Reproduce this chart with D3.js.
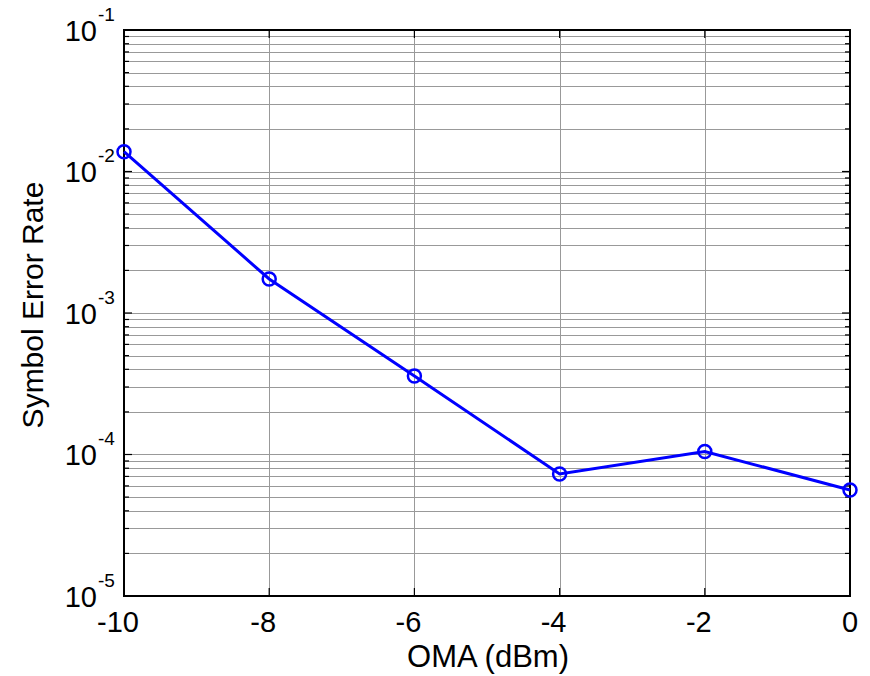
<!DOCTYPE html>
<html><head><meta charset="utf-8">
<script src="https://cdn.jsdelivr.net/npm/d3@7"></script>
<style>body{margin:0;background:#fff}text{font-family:"Liberation Sans",Arial,sans-serif}</style>
</head><body><svg id="c" width="870" height="676"></svg>
<script>
const oma = [-10, -8, -6, -4, -2, 0];
const ser = [1.38e-2, 1.74e-3, 3.59e-4, 7.28e-5, 1.05e-4, 5.61e-5];
const xTicks = [-10, -8, -6, -4, -2, 0];
const yExps = [-5, -4, -3, -2, -1];
const xLabel = "OMA (dBm)";
const yLabel = "Symbol Error Rate";

const svg = d3.select("#c");
const L = 124, R = 850, T = 30, B = 596;
const x = d3.scaleLinear().domain([-10, 0]).range([L, R]);
const y = d3.scaleLog().domain([1e-5, 1e-1]).range([B, T]);

const minor = [];
for (let e = -5; e < -1; e++) for (let m = 2; m <= 9; m++) minor.push(m * Math.pow(10, e));
const major = yExps.map(e => Math.pow(10, e));

const g = svg.append("g");
// grid
g.selectAll(".gy").data(minor.concat(major)).enter().append("line")
  .attr("x1", L).attr("x2", R).attr("y1", d => Math.round(y(d)) + 0.5).attr("y2", d => Math.round(y(d)) + 0.5)
  .attr("stroke", "#999").attr("stroke-width", 1);
g.selectAll(".gx").data(xTicks).enter().append("line")
  .attr("y1", T).attr("y2", B).attr("x1", d => Math.round(x(d)) + 0.5).attr("x2", d => Math.round(x(d)) + 0.5)
  .attr("stroke", "#999").attr("stroke-width", 1);

// ticks (inward, both sides)
const tk = svg.append("g").attr("stroke", "#000").attr("stroke-width", 1.2);
major.forEach(v => {
  tk.append("line").attr("x1", L).attr("x2", L + 8).attr("y1", y(v)).attr("y2", y(v));
  tk.append("line").attr("x1", R).attr("x2", R - 8).attr("y1", y(v)).attr("y2", y(v));
});
minor.forEach(v => {
  tk.append("line").attr("x1", L).attr("x2", L + 5).attr("y1", y(v)).attr("y2", y(v));
  tk.append("line").attr("x1", R).attr("x2", R - 5).attr("y1", y(v)).attr("y2", y(v));
});
xTicks.forEach(v => {
  tk.append("line").attr("x1", x(v)).attr("x2", x(v)).attr("y1", B).attr("y2", B - 8);
  tk.append("line").attr("x1", x(v)).attr("x2", x(v)).attr("y1", T).attr("y2", T + 8);
});

// frame
svg.append("rect").attr("x", L).attr("y", T).attr("width", R - L).attr("height", B - T)
  .attr("fill", "none").attr("stroke", "#000").attr("stroke-width", 2);

// x tick labels
svg.selectAll(".xl").data(xTicks).enter().append("text")
  .attr("x", d => x(d)).attr("dx", d => d < 0 ? -6 : 0).attr("y", 632).attr("text-anchor", "middle")
  .attr("font-size", 29).text(d => d);

// y tick labels
yExps.forEach(e => {
  const yy = y(Math.pow(10, e));
  svg.append("text").attr("x", 97).attr("y", yy + 10.5)
    .attr("text-anchor", "end").attr("font-size", 29).text("10");
  svg.append("text").attr("x", 98).attr("y", yy - 9.5)
    .attr("text-anchor", "start").attr("font-size", 19).text(e);
});

// axis labels
svg.append("text").attr("x", 488).attr("y", 667).attr("text-anchor", "middle")
  .attr("font-size", 31).text(xLabel);
svg.append("text").attr("transform", `translate(43,305) rotate(-90)`)
  .attr("text-anchor", "middle").attr("font-size", 30).text(yLabel);

// series
const line = d3.line().x((d, i) => x(oma[i])).y(d => y(d));
svg.append("path").datum(ser).attr("d", line).attr("fill", "none")
  .attr("stroke", "#0000ff").attr("stroke-width", 3);
svg.selectAll(".pt").data(ser).enter().append("circle")
  .attr("cx", (d, i) => x(oma[i])).attr("cy", d => y(d)).attr("r", 6.5)
  .attr("fill", "none").attr("stroke", "#0000ff").attr("stroke-width", 2.5);
</script></body></html>
